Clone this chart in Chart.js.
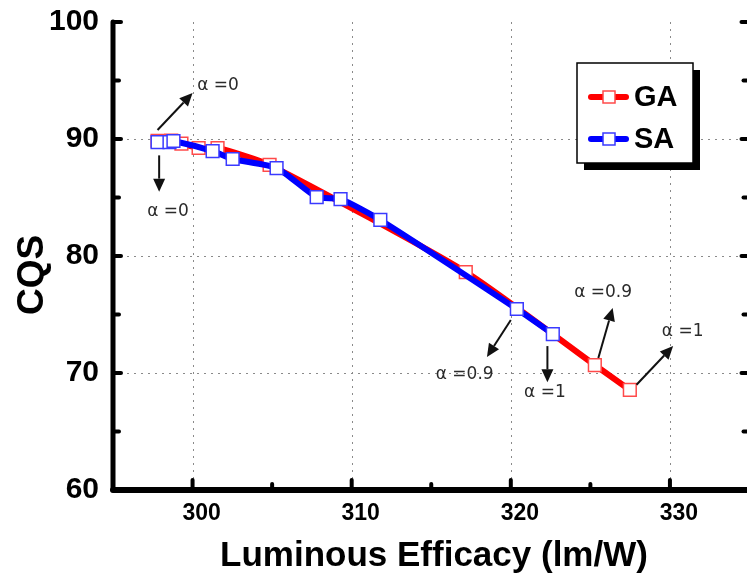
<!DOCTYPE html>
<html lang="en">
<head>
<meta charset="UTF-8" />
<title>CQS vs Luminous Efficacy</title>
<script src="https://cdn.jsdelivr.net/npm/chart.js"></script>
<style>
	html, body { margin: 0; padding: 0; background: #fff; overflow: hidden; width: 747px; height: 581px; }
	canvas { display: block; }
</style>
</head>
<body>
<canvas id="myChart" width="760" height="581"></canvas>
<script>
// values
var gaLum = [297.8, 298.66, 299.3, 300.38, 301.57, 304.84, 317.17, 325.28, 327.48];
var gaCqs = [89.85, 89.86, 89.6, 89.23, 89.23, 87.78, 78.63, 70.68, 68.55];
var saLum = [297.8, 298.55, 298.8, 301.26, 302.52, 305.28, 307.8, 309.3, 311.8, 320.38, 322.64];
var saCqs = [89.74, 89.74, 89.83, 88.97, 88.29, 87.52, 85.04, 84.87, 83.08, 75.47, 73.33];

var xTicks = [300, 310, 320, 330];
var yTicks = [60, 70, 80, 90, 100];
var xMinor = [305, 315, 325];
var yMinor = [65, 75, 85, 95];

// alpha callouts, in data units
var notes = [
	{ text: "\u03b1 =0", from: [297.8, 90.77], to: [300.0, 93.93], at: [301.6, 94.6] },
	{ text: "\u03b1 =0", from: [297.9, 88.6], to: [297.9, 85.5], at: [298.46, 83.76] },
	{ text: "\u03b1 =0.9", from: [320.0, 74.53], to: [318.5, 71.37], at: [317.1, 69.83] },
	{ text: "\u03b1 =1", from: [322.3, 72.3], to: [322.3, 69.2], at: [322.14, 68.3] },
	{ text: "\u03b1 =0.9", from: [325.5, 71.28], to: [326.4, 75.56], at: [325.8, 76.84] },
	{ text: "\u03b1 =1", from: [327.9, 69.0], to: [330.2, 72.3], at: [330.8, 73.5] },
];

function pts(xs, ys) {
	return xs.map(function (x, i) { return { x: x, y: ys[i] }; });
}

var FONT = "'Liberation Sans', Arial, sans-serif";

function arrow(ctx, x1, y1, x2, y2) {
	var a = Math.atan2(y2 - y1, x2 - x1);
	var hl = 13, hw = 6;
	var bx = x2 - hl * Math.cos(a), by = y2 - hl * Math.sin(a);
	ctx.beginPath();
	ctx.moveTo(x1, y1);
	ctx.lineTo(bx, by);
	ctx.stroke();
	ctx.beginPath();
	ctx.moveTo(x2, y2);
	ctx.lineTo(bx + hw * Math.sin(a), by - hw * Math.cos(a));
	ctx.lineTo(bx - hw * Math.sin(a), by + hw * Math.cos(a));
	ctx.closePath();
	ctx.fill();
}

var framePlugin = {
	id: "frame",
	beforeDatasetsDraw: function (chart) {
		var ctx = chart.ctx, a = chart.chartArea, sx = chart.scales.x, sy = chart.scales.y;
		ctx.save();
		ctx.strokeStyle = "#8a8a8a";
		ctx.lineWidth = 1;
		ctx.setLineDash([2, 5]);
		xTicks.forEach(function (v) {
			var px = Math.round(sx.getPixelForValue(v)) + 0.5;
			ctx.beginPath(); ctx.moveTo(px, a.top); ctx.lineTo(px, a.bottom); ctx.stroke();
		});
		[70, 80, 90].forEach(function (v) {
			var py = Math.round(sy.getPixelForValue(v)) + 0.5;
			ctx.beginPath(); ctx.moveTo(a.left, py); ctx.lineTo(a.right, py); ctx.stroke();
		});
		ctx.restore();
	},
	afterDatasetsDraw: function (chart) {
		var ctx = chart.ctx, a = chart.chartArea, sx = chart.scales.x, sy = chart.scales.y;
		ctx.save();
		ctx.strokeStyle = "#000";
		ctx.fillStyle = "#000";
		ctx.lineCap = "round";
		// axes
		ctx.lineWidth = 5;
		ctx.beginPath(); ctx.moveTo(a.left, a.top); ctx.lineTo(a.left, a.bottom); ctx.stroke();
		ctx.beginPath(); ctx.moveTo(a.right, a.top); ctx.lineTo(a.right, a.bottom); ctx.stroke();
		ctx.lineWidth = 6;
		ctx.beginPath(); ctx.moveTo(a.left, a.bottom); ctx.lineTo(a.right, a.bottom); ctx.stroke();
		// inward ticks
		ctx.lineWidth = 4;
		function yt(v, len) {
			var py = sy.getPixelForValue(v);
			ctx.beginPath(); ctx.moveTo(a.left, py); ctx.lineTo(a.left + len, py); ctx.stroke();
			ctx.beginPath(); ctx.moveTo(a.right, py); ctx.lineTo(a.right - len, py); ctx.stroke();
		}
		function xt(v, len) {
			var px = sx.getPixelForValue(v);
			ctx.beginPath(); ctx.moveTo(px, a.bottom); ctx.lineTo(px, a.bottom - len); ctx.stroke();
		}
		yTicks.forEach(function (v) { yt(v, 8); });
		yMinor.forEach(function (v) { yt(v, 6); });
		xTicks.forEach(function (v) { xt(v, 10); });
		xMinor.forEach(function (v) { xt(v, 6); });

		// callouts
		ctx.lineCap = "butt";
		ctx.lineWidth = 2;
		ctx.strokeStyle = "#111";
		ctx.fillStyle = "#111";
		notes.forEach(function (n) {
			arrow(ctx, sx.getPixelForValue(n.from[0]), sy.getPixelForValue(n.from[1]),
				sx.getPixelForValue(n.to[0]), sy.getPixelForValue(n.to[1]));
		});
		ctx.fillStyle = "#2a2a2a";
		ctx.font = "17px 'DejaVu Sans', sans-serif";
		ctx.textAlign = "center";
		ctx.textBaseline = "middle";
		notes.forEach(function (n) {
			ctx.fillText(n.text, sx.getPixelForValue(n.at[0]), sy.getPixelForValue(n.at[1]));
		});

		// legend box with shadow
		var lx = 577, ly = 63, lw = 116, lh = 100;
		ctx.fillStyle = "#000";
		ctx.fillRect(lx + 7, ly + 7, lw, lh);
		ctx.fillStyle = "#fff";
		ctx.fillRect(lx, ly, lw, lh);
		ctx.lineWidth = 1.5;
		ctx.strokeStyle = "#000";
		ctx.strokeRect(lx, ly, lw, lh);
		chart.data.datasets.forEach(function (ds, i) {
			var cy = ly + 34 + i * 42;
			ctx.lineCap = "round";
			ctx.lineWidth = 6;
			ctx.strokeStyle = ds.borderColor;
			ctx.beginPath(); ctx.moveTo(591, cy); ctx.lineTo(626, cy); ctx.stroke();
			ctx.fillStyle = "#fff";
			ctx.fillRect(603, cy - 6, 12, 12);
			ctx.lineWidth = 1.5;
			ctx.strokeStyle = ds.pointBorderColor;
			ctx.strokeRect(603, cy - 6, 12, 12);
			ctx.fillStyle = "#000";
			ctx.font = "bold 29px " + FONT;
			ctx.textAlign = "left";
			ctx.textBaseline = "middle";
			ctx.fillText(ds.label, 634, cy + 1);
		});

		// axis titles
		ctx.fillStyle = "#000";
		ctx.font = "bold 35px " + FONT;
		ctx.textAlign = "center";
		ctx.textBaseline = "alphabetic";
		ctx.fillText("Luminous Efficacy (lm/W)", 434, 566);
		ctx.save();
		ctx.translate(43, 275);
		ctx.rotate(-Math.PI / 2);
		ctx.font = "bold 37px " + FONT;
		ctx.fillText("CQS", 0, 0);
		ctx.restore();
		ctx.restore();
	},
};

var ctx = document.getElementById("myChart").getContext("2d");
var myChart = new Chart(ctx, {
	type: "line",
	plugins: [framePlugin],
	data: {
		datasets: [
			{
				label: "GA",
				data: pts(gaLum, gaCqs),
				borderColor: "#ff0000",
				borderWidth: 6,
				tension: 0.2,
				pointStyle: "rect",
				pointRadius: 9,
				pointBorderWidth: 1.5,
				pointBorderColor: "#ff4a4a",
				pointBackgroundColor: "#ffffff",
				order: 2,
			},
			{
				label: "SA",
				data: pts(saLum, saCqs),
				borderColor: "#0000ff",
				borderWidth: 6,
				tension: 0.2,
				pointStyle: "rect",
				pointRadius: 9,
				pointBorderWidth: 1.5,
				pointBorderColor: "#3a3aff",
				pointBackgroundColor: "#ffffff",
				order: 1,
			},
		],
	},
	options: {
		responsive: false,
		animation: false,
		layout: { padding: { top: 22, right: 10.5, left: 0, bottom: 0 } },
		scales: {
			x: {
				type: "linear",
				min: 295,
				max: 335,
				afterFit: function (s) { s.height = 91; s.paddingLeft = 0; s.paddingRight = 0; },
				afterBuildTicks: function (s) { s.ticks = xTicks.map(function (v) { return { value: v }; }); },
				grid: { display: false },
				border: { display: false },
				ticks: {
					color: "#000",
					padding: 2,
					labelOffset: 9,
					font: { family: FONT, weight: "bold", size: 23 },
				},
			},
			y: {
				min: 60,
				max: 100,
				afterFit: function (s) { s.width = 113; s.paddingTop = 0; s.paddingBottom = 0; },
				afterBuildTicks: function (s) { s.ticks = yTicks.map(function (v) { return { value: v }; }); },
				grid: { display: false },
				border: { display: false },
				ticks: {
					color: "#000",
					padding: 6,
					font: { family: FONT, weight: "bold", size: 30 },
				},
			},
		},
		plugins: {
			legend: { display: false },
			tooltip: { enabled: false },
		},
	},
});
</script>
</body>
</html>
